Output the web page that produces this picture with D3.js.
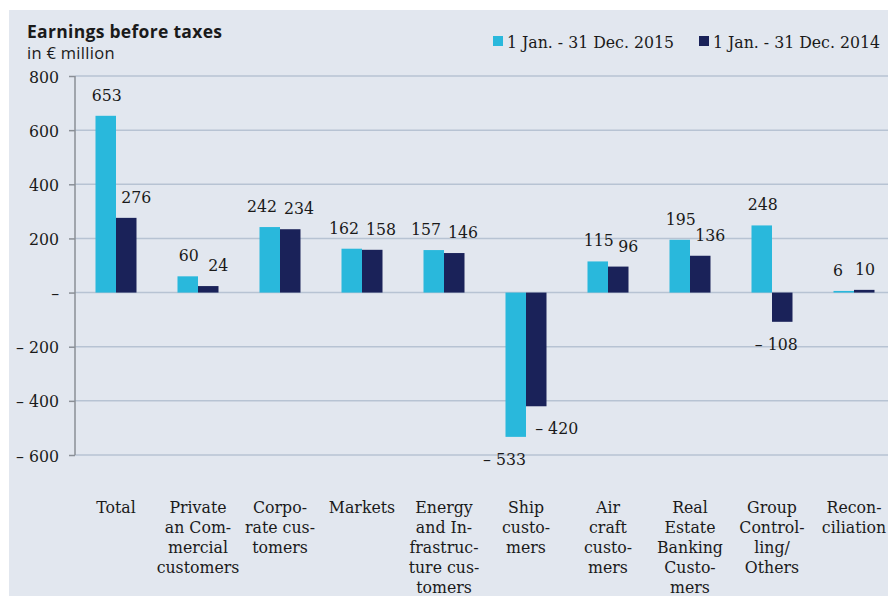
<!DOCTYPE html>
<html><head><meta charset="utf-8">
<script src="https://cdn.jsdelivr.net/npm/d3@7"></script>
<style>body{margin:0;background:#fff}svg{display:block}</style>
</head><body>
<svg id="c" width="888" height="596"></svg>
<script>
const categories = [
  ["Total"],
  ["Private","an Com-","mercial","customers"],
  ["Corpo-","rate cus-","tomers"],
  ["Markets"],
  ["Energy","and In-","frastruc-","ture cus-","tomers"],
  ["Ship","custo-","mers"],
  ["Air","craft","custo-","mers"],
  ["Real","Estate","Banking","Custo-","mers"],
  ["Group","Control-","ling/","Others"],
  ["Recon-","ciliation"]
];
const series = ["1 Jan. - 31 Dec. 2015", "1 Jan. - 31 Dec. 2014"];
const values2015 = [653, 60, 242, 162, 157, -533, 115, 195, 248, 6];
const values2014 = [276, 24, 234, 158, 146, -420, 96, 136, -108, 10];
const yTicks = [800, 600, 400, 200, 0, -200, -400, -600];
const colors = ["#29b8dc", "#1a2259"];

const W = 888;
const svg = d3.select("#c");
const serif = "'DejaVu Serif Condensed', 'DejaVu Serif', serif";
const fs = 17.5;
svg.append("rect").attr("x",9).attr("y",10).attr("width",879).attr("height",586).attr("fill","#e2e7ef");

const y = d3.scaleLinear().domain([-600, 800]).range([455, 76]);
const idx = categories.map((d,i)=>i);
const x0 = d3.scaleBand().domain(idx).range([75, 895]).padding(0);
const x1 = d3.scaleBand().domain([0,1]).range([20.5, 61.5]).padding(0);

// gridlines
svg.append("g").selectAll("line").data(yTicks).join("line")
  .attr("x1",75).attr("x2",W).attr("y1",d=>y(d)).attr("y2",d=>y(d))
  .attr("stroke","#b7c3d3").attr("stroke-width",1.5);

// axis
const fmt = d => d===0 ? "–" : (d<0 ? "– " + Math.abs(d) : String(d));
const ax = svg.append("g").attr("transform","translate(75,0)")
  .call(d3.axisLeft(y).tickValues(yTicks).tickFormat(fmt).tickSize(6).tickPadding(10));
ax.select(".domain").attr("stroke","#8a8f96").attr("stroke-width",1.5).attr("d","M0,"+y(800)+"V"+y(-600));
ax.selectAll(".tick line").attr("stroke","#8a8f96").attr("stroke-width",1.5);
ax.selectAll(".tick text").attr("font-family",serif).attr("font-size",fs).attr("fill","#1a1a1a").attr("dy","0.35em");

// bars
const data = [];
idx.forEach(i=>{
  data.push({i, s:0, v:values2015[i]});
  data.push({i, s:1, v:values2014[i]});
});
svg.append("g").selectAll("rect").data(data).join("rect")
  .attr("x", d=>x0(d.i)+x1(d.s))
  .attr("width", x1.bandwidth())
  .attr("y", d=>y(Math.max(0,d.v)))
  .attr("height", d=>Math.max(1.5, Math.abs(y(d.v)-y(0))))
  .attr("fill", d=>colors[d.s]);

// value labels
const lab = svg.append("g").attr("font-family",serif).attr("font-size",fs).attr("fill","#1a1a1a");
idx.forEach(i=>{
  const pair = [0,1].map(s=>{
    const v = s===0 ? values2015[i] : values2014[i];
    const bx = x0(i)+x1(s), bw = x1.bandwidth(), cx = bx+bw/2;
    const t = lab.append("text").text(fmt(v));
    return {s, v, bx, bw, cx, t, w: t.node().getComputedTextLength()};
  });
  const gc = x0(i)+x0.bandwidth()/2;
  pair.forEach(p=>{
    const other = pair[1-p.s];
    if (p.v >= 0) {
      p.anchor = "middle";
      p.x = p.s===0 ? p.cx+1 : p.cx+10;
      p.x = Math.min(p.x, W - 13 - p.w/2);
      p.y = y(p.v) - 15;
    } else {
      p.y = y(p.v) + 28;
      if (p.s===0) { p.anchor="end"; p.x = p.bx+p.bw; }
      else if (other.v < 0) { p.anchor="start"; p.x = p.cx-1; }
      else { p.anchor="middle"; p.x = p.cx-6; }
    }
  });
  const [a,b] = pair;
  if (a.v>=0 && b.v>=0 && Math.abs(a.y-b.y) < 10) {
    const gap = (b.x-b.w/2) - (a.x+a.w/2);
    if (a.w + b.w > 40) {
      if (gap < 3) {
        a.anchor="end"; a.x = gc-3;
        b.anchor="start"; b.x = gc+4;
      }
    } else if (gap < 10) {
      a.x -= (12 - gap);
    }
  }
  pair.forEach(p=>p.t.attr("x",p.x).attr("y",p.y).attr("text-anchor",p.anchor));
});

// category labels
const cl = svg.append("g").attr("font-family",serif).attr("font-size",fs).attr("fill","#1a1a1a").attr("text-anchor","middle");
categories.forEach((lines,i)=>{
  const cx = x0(i)+x0.bandwidth()/2;
  const t = cl.append("text").attr("x", cx).attr("y",513);
  lines.forEach((ln,k)=> t.append("tspan").attr("x", cx).attr("dy", k===0?0:20).text(ln));
});

// title
svg.append("text").attr("x",27).attr("y",38).attr("font-family","'Open Sans'").attr("font-weight","bold").attr("font-size",17.5).attr("letter-spacing",0.3).attr("fill","#1a1a1a").text("Earnings before taxes");
svg.append("text").attr("x",27).attr("y",59).attr("font-family","'Open Sans'").attr("font-size",16.5).attr("letter-spacing",0.3).attr("fill","#1a1a1a").text("in € million");

// legend
const legX = [493, 699];
series.forEach((s,k)=>{
  svg.append("rect").attr("x",legX[k]).attr("y",36).attr("width",10).attr("height",10).attr("fill",colors[k]);
  svg.append("text").attr("x",legX[k]+14).attr("y",48).attr("font-family",serif).attr("font-size",fs).attr("fill","#1a1a1a").text(s);
});
</script>
</body></html>
